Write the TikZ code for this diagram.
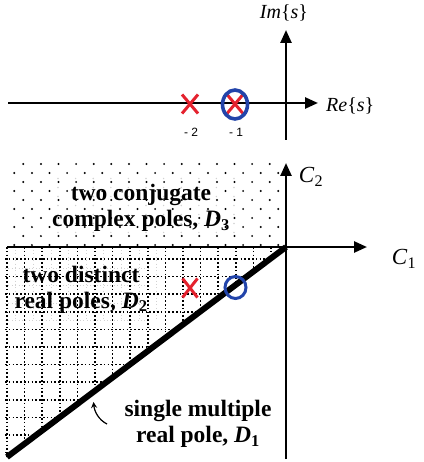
\documentclass[tikz,border=0pt]{standalone}
\usepackage{fontspec}
\setmainfont{Liberation Serif}
\newfontfamily\ticksans{Liberation Sans}
\usetikzlibrary{arrows.meta,shapes.misc,shapes.geometric}
\definecolor{polered}{RGB}{228,34,46}
\definecolor{zeroblue}{RGB}{34,68,170}
\begin{document}
\begin{tikzpicture}[x=1pt,y=-1pt,
  axis/.style={line width=2.5pt,-{Triangle[length=13pt,width=11pt]}},
  polemark/.style={cross out,draw=polered,line width=3pt,minimum width=13pt,minimum height=16pt,inner sep=0pt},
  zeromark/.style={ellipse,draw=zeroblue,line width=3.6pt,inner sep=0pt},
  regionlabel/.style={font=\bfseries\fontsize{23.5}{26}\selectfont,align=center,inner sep=0pt},
  axislabel/.style={font=\fontsize{23}{26}\selectfont,inner sep=0pt},
  splabel/.style={font=\fontsize{20}{22}\selectfont,inner sep=0pt},
  ticklabel/.style={font=\ticksans\fontsize{12}{13}\selectfont,inner sep=0pt},
  blackdot/.style={fill=black},
  griddot/.style={line width=1.6pt,dash pattern=on 1.6pt off 2.2pt},
  finedot/.style={line width=0.9pt,gray!35,dash pattern=on 1pt off 2.4pt}]
\useasboundingbox (0,0) rectangle (423,462);

% ---------- s-plane ----------
\coordinate (reL) at (8,103);
\coordinate (reR) at (318,103);
\coordinate (imB) at (286,140);
\coordinate (imT) at (286,30);
\draw[axis] (reL) -- (reR);
\draw[axis] (imB) -- (imT);
\node[splabel] (imlab) at (284,13) {\textit{Im}\{\textit{s}\}};
\node[splabel,anchor=west] (relab) at (326,106) {\textit{Re}\{\textit{s}\}};
\node[polemark] (p2) at (190,104) {};
\node[polemark] (p1) at (235,104) {};
\node[zeromark,minimum width=25pt,minimum height=29pt] (z1) at (235,104.5) {};
\node[ticklabel] (t2) at (191,132) {- 2};
\node[ticklabel] (t1) at (236,132) {- 1};

% ---------- region D3 : staggered dots ----------
\begin{scope}
\clip (9,158) rectangle (283,246);
\foreach \j in {0,...,9}{
  \pgfmathsetmacro{\yy}{164+9*\j}
  \pgfmathsetmacro{\xo}{mod(\j,2)==0 ? 5.7 : 14.3}
  \foreach \k in {0,...,16}{
    \fill[blackdot] (\xo+17.6*\k,\yy) circle (1.1pt);
  }
}
\foreach \j in {0,...,6}{
  \pgfmathsetmacro{\yy}{178.5+9*\j}
  \foreach \k in {0,...,10}{
    \fill[gray!35] (58+17.6*\k,\yy) circle (0.8pt);
  }
}
\end{scope}

% ---------- region D2 : dotted grid ----------
\coordinate (o) at (286,247);
\coordinate (dl) at (7,457);
\begin{scope}
\clip (5,247) -- (o) -- (dl) -- (5,457) -- cycle;
\foreach \k in {0,...,8}{
  \draw[finedot] (15.8+17.6*\k,250) -- (15.8+17.6*\k,320);
}
\foreach \k in {0,...,3}{
  \draw[finedot] (5,268+17.6*\k) -- (150,268+17.6*\k);
}
\foreach \k in {0,...,16}{
  \draw[griddot] (7+17.6*\k,247) -- (7+17.6*\k,460);
}
\foreach \k in {0,...,11}{
  \draw[griddot] (5,259+17.6*\k) -- (290,259+17.6*\k);
}
\end{scope}

% ---------- D1 line and axes ----------
\draw[line width=6pt] (dl) -- (o);
\coordinate (c1L) at (7,247);
\coordinate (c1R) at (367,247);
\coordinate (c2B) at (286,459);
\coordinate (c2T) at (286,163);
\draw[axis] (c1L) -- (c1R);
\draw[axis] (c2B) -- (c2T);
\node[axislabel] (c2lab) at (311,177) {\textit{C}\textsubscript{2}};
\node[axislabel] (c1lab) at (404,259) {\textit{C}\textsubscript{1}};

% ---------- region labels ----------
\node[regionlabel] (d3) at (141,208) {two conjugate\\complex poles, \textit{D}\textsubscript{3}};
\node[regionlabel] (d2) at (81,289.5) {two distinct\\real poles, \textit{D}\textsubscript{2}};
\node[regionlabel] (d1) at (198,424) {single multiple\\real pole, \textit{D}\textsubscript{1}};

% ---------- pointer to D1 ----------
\coordinate (atail) at (107,424);
\coordinate (atip) at (93.5,402);
\draw[line width=1.2pt,-{Stealth[length=6pt,width=6pt]}] (atail) .. controls (99,420) and (94.5,412) .. (atip);

% ---------- pole / zero in C-plane ----------
\node[polemark,minimum width=12pt,minimum height=16pt] (q2) at (190,288) {};
\node[zeromark,line width=3pt,minimum width=21pt,minimum height=22pt] (q1) at (235.5,287.5) {};
\end{tikzpicture}
\end{document}
